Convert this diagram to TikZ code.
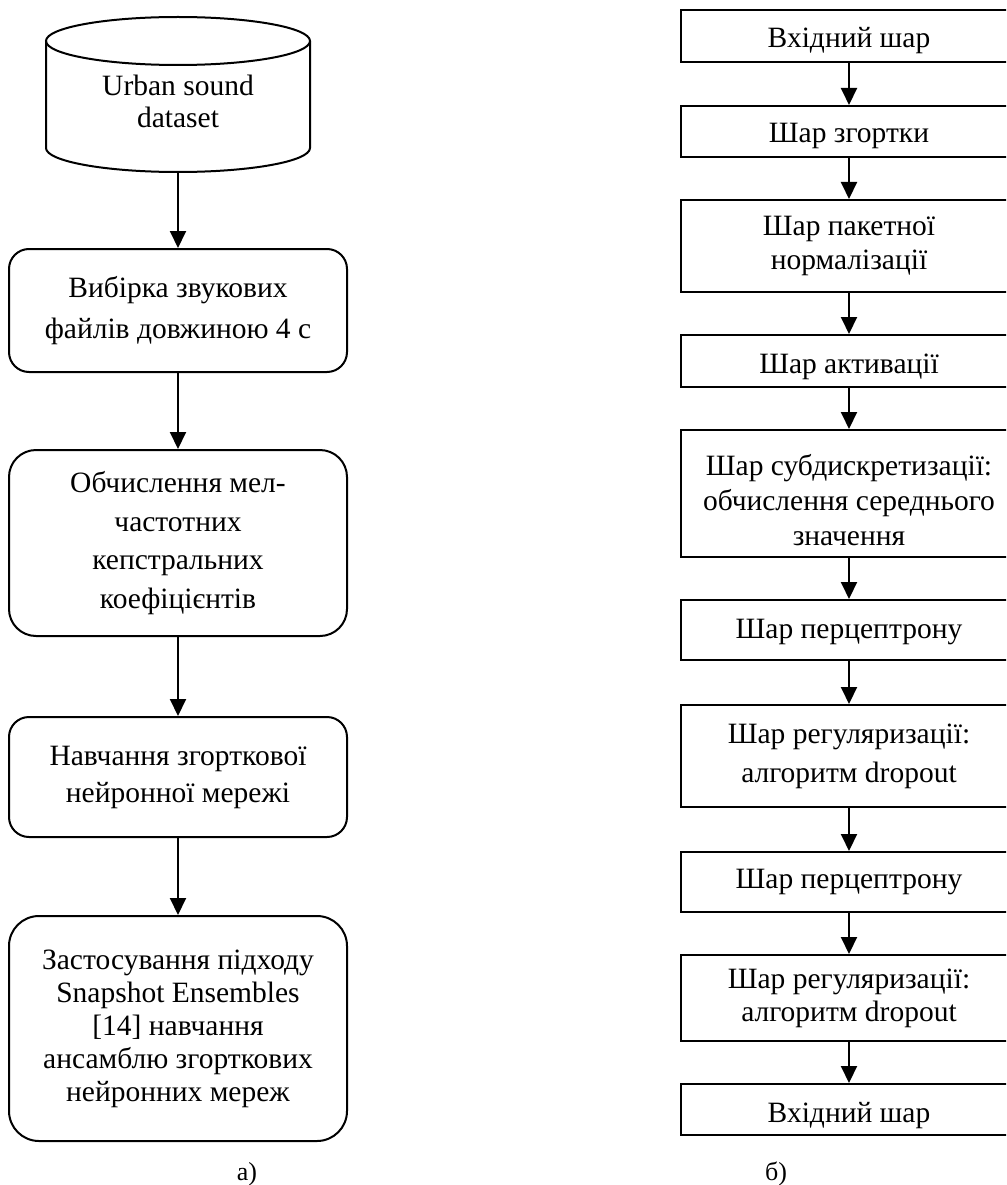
\documentclass[tikz,border=0pt]{standalone}
\usepackage{fontspec}
\setmainfont{Liberation Serif}
\usetikzlibrary{arrows.meta}
\begin{document}
\begin{tikzpicture}[x=1pt,y=-1pt,line width=2pt,
  lbox/.style={draw,rounded corners=#1,minimum width=338pt,align=center,inner sep=0pt},
  rbox/.style={draw,rectangle,minimum width=336pt,align=center,inner sep=0pt},
  arr/.style={-{Triangle[width=16pt,length=17pt]},line width=2pt}]
\path[use as bounding box,fill=white] (0,0) rectangle (1006,1185);
\clip (0,0) rectangle (1006,1185);
% ---- left column ----
\draw (46,41) -- (46,148) arc[start angle=180,end angle=360,x radius=132pt,y radius=24pt] -- (310,41);
\draw (178,41) ellipse [x radius=132pt,y radius=24pt];
\node[minimum width=264pt,minimum height=155pt,inner sep=0pt,align=center,
      font=\fontsize{29.5}{32}\selectfont] (db) at (178,94.5)
      {\rule{0pt}{35pt}Urban sound\\dataset};
\node[lbox=20pt,minimum height=123pt,font=\fontsize{29.5}{41}\selectfont] (A) at (178,310.5)
      {Вибірка звукових\\файлів довжиною 4 с};
\node[lbox=27pt,minimum height=186pt,font=\fontsize{29.5}{38.7}\selectfont] (B) at (178,543)
      {Обчислення мел-\\частотних\\кепстральних\\коефіцієнтів};
\node[lbox=20pt,minimum height=120pt,font=\fontsize{29.5}{37}\selectfont] (C) at (178,777)
      {Навчання згорткової\\нейронної мережі};
\node[lbox=30pt,minimum height=225pt,font=\fontsize{29.5}{33}\selectfont] (D) at (178,1028.5)
      {Застосування підходу\\Snapshot Ensembles\\{[14]} навчання\\ансамблю згорткових\\нейронних мереж};
\draw[arr] (db.south) -- (A.north);
\draw[arr] (A.south) -- (B.north);
\draw[arr] (B.south) -- (C.north);
\draw[arr] (C.south) -- (D.north);
\node[font=\fontsize{26}{30}\selectfont,anchor=base] (la) at (247,1180) {а)};
% ---- right column ----
\node[rbox,minimum height=52pt,font=\fontsize{29.5}{34}\selectfont,text height=30pt,text depth=6pt] (R1) at (849,36) {Вхідний шар};
\node[rbox,minimum height=51pt,font=\fontsize{29.5}{34}\selectfont,text height=29pt,text depth=6pt] (R2) at (849,131.5) {Шар згортки};
\node[rbox,minimum height=92pt,font=\fontsize{29.5}{34}\selectfont] (R3) at (849,246) {Шар пакетної\\нормалізації};
\node[rbox,minimum height=52pt,font=\fontsize{29.5}{34}\selectfont,text height=30pt,text depth=6pt] (R4) at (849,361) {Шар активації};
\node[rbox,minimum height=127pt,font=\fontsize{29.5}{35}\selectfont] (R5) at (849,493.5) {\rule{0pt}{35pt}Шар субдискретизації:\\обчислення середнього\\значення};
\node[rbox,minimum height=60pt,font=\fontsize{29.5}{34}\selectfont,text height=22pt,text depth=6pt] (R6) at (849,630) {Шар перцептрону};
\node[rbox,minimum height=102pt,font=\fontsize{29.5}{39}\selectfont] (R7) at (849,756) {Шар регуляризації:\\алгоритм dropout};
\node[rbox,minimum height=60pt,font=\fontsize{29.5}{34}\selectfont,text height=18pt,text depth=6pt] (R8) at (849,882) {Шар перцептрону};
\node[rbox,minimum height=86pt,font=\fontsize{29.5}{33}\selectfont] (R9) at (849,998) {Шар регуляризації:\\алгоритм dropout};
\node[rbox,minimum height=51pt,font=\fontsize{29.5}{34}\selectfont,text height=31pt,text depth=6pt] (R10) at (849,1109.5) {Вхідний шар};
\draw[arr] (R1.south) -- (R2.north);
\draw[arr] (R2.south) -- (R3.north);
\draw[arr] (R3.south) -- (R4.north);
\draw[arr] (R4.south) -- (R5.north);
\draw[arr] (R5.south) -- (R6.north);
\draw[arr] (R6.south) -- (R7.north);
\draw[arr] (R7.south) -- (R8.north);
\draw[arr] (R8.south) -- (R9.north);
\draw[arr] (R9.south) -- (R10.north);
\node[font=\fontsize{26}{30}\selectfont,anchor=base] (lb) at (776,1180) {б)};
\end{tikzpicture}
\end{document}
